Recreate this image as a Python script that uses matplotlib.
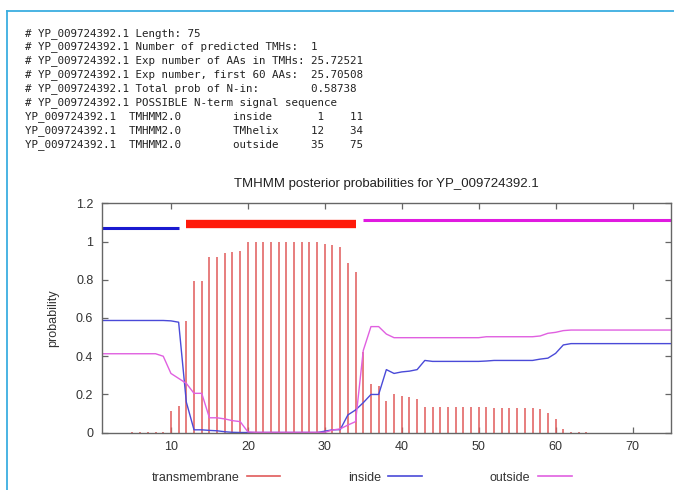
import matplotlib
matplotlib.use("Agg")
import matplotlib.pyplot as plt
from matplotlib.lines import Line2D
import numpy as np

# ---------------- data ----------------
seq_id = "YP_009724392.1"
header_lines = [
    "# YP_009724392.1 Length: 75",
    "# YP_009724392.1 Number of predicted TMHs:  1",
    "# YP_009724392.1 Exp number of AAs in TMHs: 25.72521",
    "# YP_009724392.1 Exp number, first 60 AAs:  25.70508",
    "# YP_009724392.1 Total prob of N-in:        0.58738",
    "# YP_009724392.1 POSSIBLE N-term signal sequence",
    "YP_009724392.1  TMHMM2.0        inside       1    11",
    "YP_009724392.1  TMHMM2.0        TMhelix     12    34",
    "YP_009724392.1  TMHMM2.0        outside     35    75",
]

topo_labels = ["inside", "TMhelix", "outside"]
topo_start = [1, 12, 35]
topo_end = [11, 34, 75]

positions = list(range(1, 76))

transmembrane = [
    0, 0, 0, 0, 0.004, 0.004, 0.004, 0.005, 0.006,          # 1-9
    0.113, 0.141, 0.584, 0.794, 0.794, 0.917, 0.917, 0.938, 0.947, 0.952,  # 10-19
    1.0, 1.0, 1.0, 1.0, 1.0, 1.0, 1.0, 1.0, 1.0, 0.999,     # 20-29
    0.986, 0.982, 0.970, 0.886, 0.842,                      # 30-34
    0.424, 0.255, 0.244, 0.167, 0.200, 0.192, 0.187, 0.176,  # 35-42
    0.133, 0.133, 0.133, 0.133, 0.133, 0.133, 0.133, 0.133, 0.133,  # 43-51
    0.128, 0.128, 0.128, 0.128, 0.128, 0.128,               # 52-57
    0.124, 0.105, 0.073, 0.020, 0.003, 0.003, 0.003,        # 58-64
    0, 0, 0, 0, 0, 0, 0, 0, 0, 0, 0,                        # 65-75
]

inside = [
    0.587, 0.587, 0.587, 0.587, 0.587, 0.587, 0.587, 0.587, 0.587,  # 1-9
    0.585, 0.578, 0.160, 0.015, 0.015, 0.012, 0.010, 0.005, 0.002, 0.001,  # 10-19
    0.001, 0.001, 0.001, 0.001, 0.001, 0.001, 0.001, 0.001, 0.001, 0.001,  # 20-29
    0.008, 0.015, 0.016, 0.093, 0.119,                       # 30-34
    0.157, 0.200, 0.200, 0.330, 0.310, 0.318, 0.322, 0.330,   # 35-42
    0.378, 0.373, 0.373, 0.373, 0.373, 0.373, 0.373, 0.373, 0.375,  # 43-51
    0.378, 0.378, 0.378, 0.378, 0.378, 0.378,                # 52-57
    0.385, 0.390, 0.415, 0.459, 0.466, 0.466, 0.466,         # 58-64
    0.466, 0.466, 0.466, 0.466, 0.466, 0.466, 0.466, 0.466, 0.466, 0.466, 0.466,  # 65-75
]

outside = [
    0.413, 0.413, 0.413, 0.413, 0.413, 0.413, 0.413, 0.413, 0.400,  # 1-9
    0.310, 0.284, 0.258, 0.206, 0.206, 0.078, 0.078, 0.072, 0.063, 0.058,  # 10-19
    0.004, 0.002, 0.002, 0.002, 0.002, 0.002, 0.002, 0.002, 0.002, 0.002,  # 20-29
    0.002, 0.014, 0.020, 0.040, 0.058,                       # 30-34
    0.430, 0.555, 0.555, 0.516, 0.497, 0.497, 0.497, 0.497,   # 35-42
    0.497, 0.497, 0.497, 0.497, 0.497, 0.497, 0.497, 0.497, 0.502,  # 43-51
    0.502, 0.502, 0.502, 0.502, 0.502, 0.502,                # 52-57
    0.506, 0.520, 0.525, 0.534, 0.537, 0.537, 0.537,         # 58-64
    0.537, 0.537, 0.537, 0.537, 0.537, 0.537, 0.537, 0.537, 0.537, 0.537, 0.537,  # 65-75
]

xticks = [10, 20, 30, 40, 50, 60, 70]
yticks = [0, 0.2, 0.4, 0.6, 0.8, 1.0, 1.2]
ytick_labels = ["0", "0.2", "0.4", "0.6", "0.8", "1", "1.2"]

# ---------------- style ----------------
W, H = 674, 490
fig = plt.figure(figsize=(W / 100, H / 100), dpi=100)
fig.patch.set_facecolor("white")

sans = ["Liberation Sans", "DejaVu Sans"]
mono = ["DejaVu Sans Mono"]

tm_color = "#e05a5a"
in_color = "#4a4ad8"
out_color = "#e060e0"

# frame lines (page border)
frame_col = "#3aaee0"
fig.add_artist(Line2D([7 / W, 1.0], [1 - 11 / H, 1 - 11 / H], transform=fig.transFigure,
                      color=frame_col, lw=1.3))
fig.add_artist(Line2D([7 / W, 7 / W], [0, 1 - 11 / H], transform=fig.transFigure,
                      color=frame_col, lw=1.3))

# header text
for i, line in enumerate(header_lines):
    yb = 35.7 + 13.875 * i
    fig.text(25 / W, 1 - yb / H, line, family=mono, fontsize=7.85, color="#222222",
             ha="left", va="baseline")

# axes
left, right, top, bottom = 101.7, 671.0, 203.3, 432.7
ax = fig.add_axes([left / W, 1 - bottom / H, (right - left) / W, (bottom - top) / H])

ax.vlines(positions, 0, transmembrane, color=tm_color, lw=1.1)
ax.plot(positions, inside, color=in_color, lw=1.0)
ax.plot(positions, outside, color=out_color, lw=1.0)

# topology indicator bars
topo_y = {"inside": 1.072, "TMhelix": 1.094, "outside": 1.112}
topo_col = {"inside": "#1a1ad0", "TMhelix": "#ff1a0a", "outside": "#e01ae0"}
topo_lw = {"inside": 2.2, "TMhelix": 6.0, "outside": 2.2}
for lab, s, e in zip(topo_labels, topo_start, topo_end):
    ax.plot([s, e], [topo_y[lab], topo_y[lab]], color=topo_col[lab], lw=topo_lw[lab],
            solid_capstyle="butt")

ax.set_xlim(1, 75)
ax.set_ylim(0, 1.2)
ax.set_xticks(xticks)
ax.set_xticklabels([str(t) for t in xticks])
ax.set_yticks(yticks)
ax.set_yticklabels(ytick_labels)

for sp in ax.spines.values():
    sp.set_color("#666666")
    sp.set_linewidth(1.0)

ax.tick_params(direction="in", length=4, width=0.9, color="#666666",
               top=True, right=True, labelsize=9, labelcolor="#333333", pad=6)
for lbl in ax.get_xticklabels() + ax.get_yticklabels():
    lbl.set_family(sans)

ax.set_ylabel("probability", family=sans, fontsize=9, color="#333333", labelpad=12)
ax.set_title("TMHMM posterior probabilities for " + seq_id, family=sans, fontsize=9.5,
             color="#222222", pad=12)

# legend
handles = [Line2D([], [], color=tm_color, lw=1.2),
           Line2D([], [], color=in_color, lw=1.2),
           Line2D([], [], color=out_color, lw=1.2)]
leg = fig.legend(handles, ["transmembrane", "inside", "outside"], ncol=3, frameon=False,
                 markerfirst=False, loc="center", bbox_to_anchor=(361.5 / W, 1 - 477.7 / H),
                 prop={"family": sans, "size": 9}, handlelength=2.7, handletextpad=0.6,
                 columnspacing=5.4, borderpad=0)
for t in leg.get_texts():
    t.set_color("#333333")

fig.savefig("out.png", dpi=100, facecolor="white")
